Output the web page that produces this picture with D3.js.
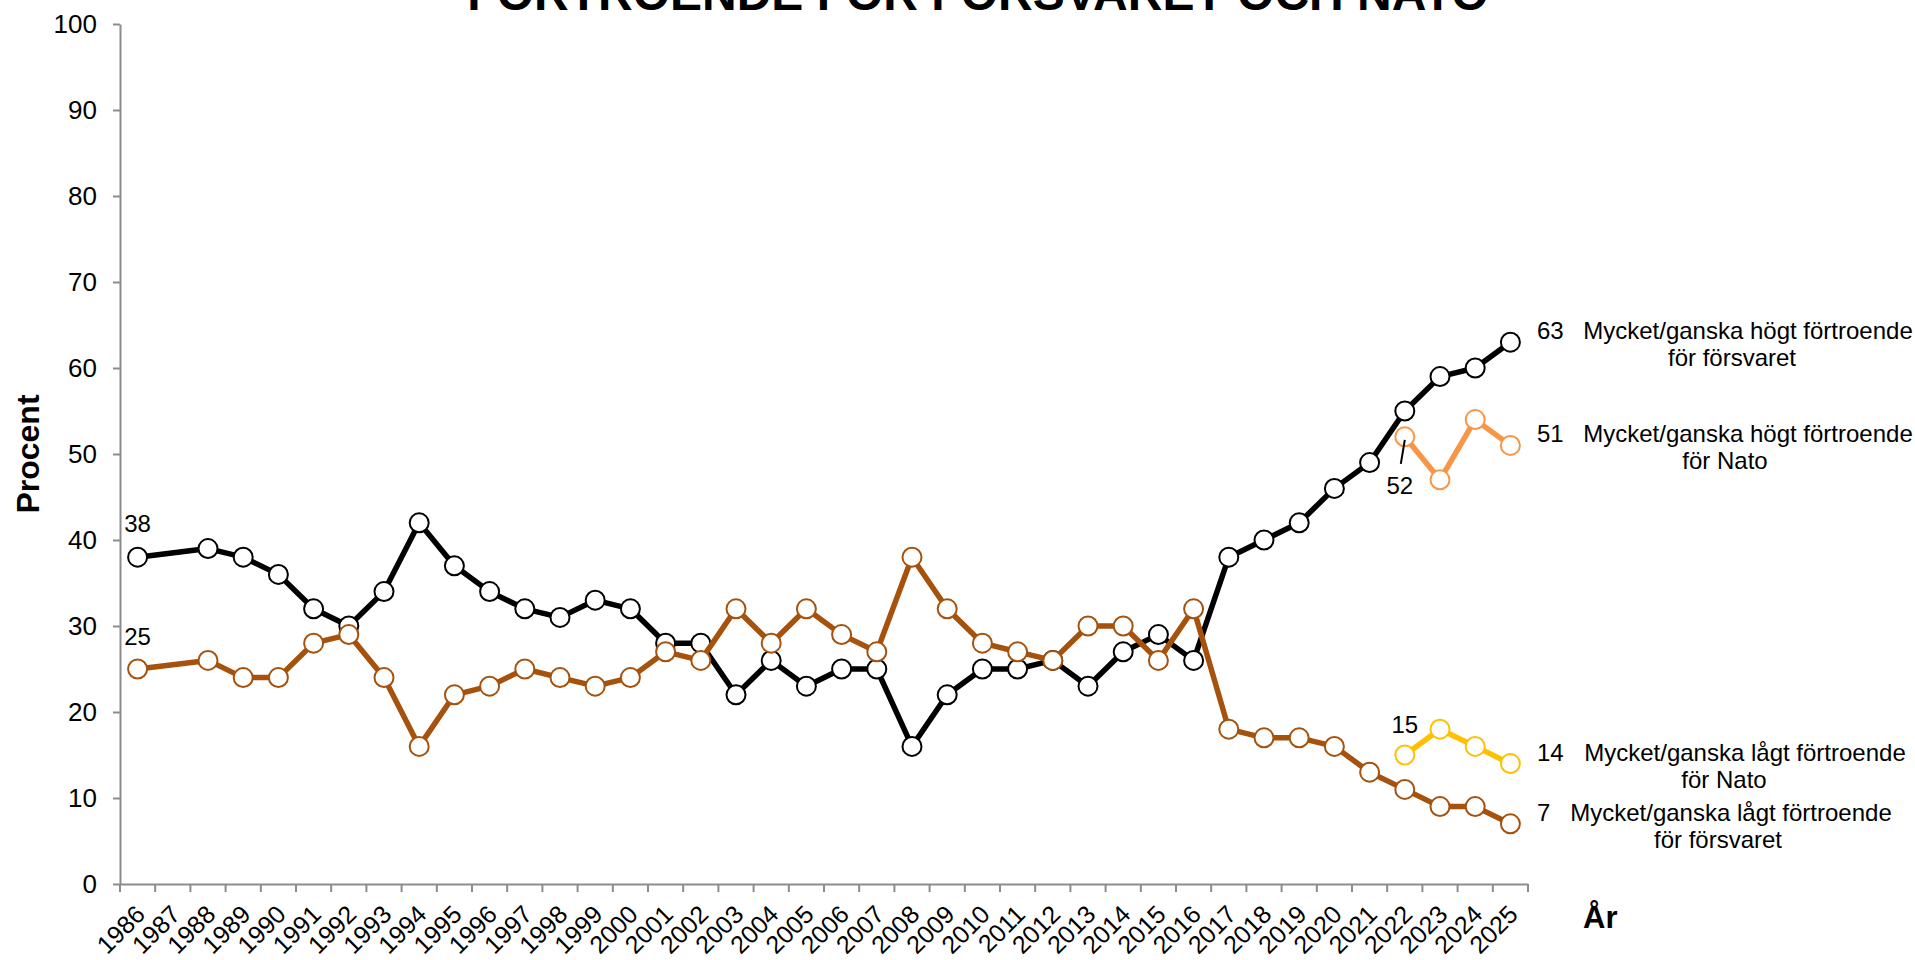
<!DOCTYPE html>
<html>
<head>
<meta charset="utf-8">
<script src="https://cdn.jsdelivr.net/npm/d3@7"></script>
<style>
  html, body { margin: 0; padding: 0; background: #fff; }
  svg { display: block; font-family: "Liberation Sans", Arial, sans-serif; }
</style>
</head>
<body>
<main></main>
<script>
const years = [1986, 1987, 1988, 1989, 1990, 1991, 1992, 1993, 1994, 1995,
    1996, 1997, 1998, 1999, 2000, 2001, 2002, 2003, 2004, 2005,
    2006, 2007, 2008, 2009, 2010, 2011, 2012, 2013, 2014, 2015,
    2016, 2017, 2018, 2019, 2020, 2021, 2022, 2023, 2024, 2025]

// 1987 saknas
const hogtForsvaret = [38, null, 39, 38, 36, 32, 30, 34, 42, 37,
    34, 32, 31, 33, 32, 28, 28, 22, 26, 23,
    25, 25, 16, 22, 25, 25, 26, 23, 27, 29,
    26, 38, 40, 42, 46, 49, 55, 59, 60, 63]
const lagtForsvaret = [25, null, 26, 24, 24, 28, 29, 24, 16, 22,
    23, 25, 24, 23, 24, 27, 26, 32, 28, 32,
    29, 27, 38, 32, 28, 27, 26, 30, 30, 26,
    32, 18, 17, 17, 16, 13, 11, 9, 9, 7]
const natoYears = [2022, 2023, 2024, 2025]
const hogtNato = [52, 47, 54, 51]
const lagtNato = [15, 18, 16, 14]

const yTicks = [0, 10, 20, 30, 40, 50, 60, 70, 80, 90, 100]

const width = 1915, height = 960
const margin = { top: 24, bottom: 76, left: 120, right: 387 }

const svg = d3.select("main")
    .append("svg")
    .attr("width", width)
    .attr("height", height)

const x = d3.scaleBand()
    .domain(years)
    .range([margin.left, width - margin.right])
    .padding(0)
const cx = d => x(d) + x.bandwidth() / 2

const y = d3.scaleLinear()
    .domain([0, 100])
    .range([height - margin.bottom, margin.top])

const axisColor = "#8c8c8c"

// y-axel
const gy = svg.append("g")
    .attr("transform", `translate(${margin.left}, 0)`)
    .call(d3.axisLeft(y).tickValues(yTicks).tickSizeInner(7).tickSizeOuter(0).tickPadding(16))
gy.select(".domain").attr("stroke", axisColor).attr("stroke-width", 2)
gy.selectAll(".tick line").attr("stroke", axisColor).attr("stroke-width", 2)
gy.selectAll(".tick text")
    .attr("font-size", 26)
    .attr("font-family", "Liberation Sans, Arial, sans-serif")
    .attr("fill", "#000")

// x-axel
const gx = svg.append("g")
    .attr("transform", `translate(0, ${y(0)})`)
    .call(d3.axisBottom(x).tickSize(0).tickSizeOuter(0))
gx.select(".domain").attr("stroke", axisColor).attr("stroke-width", 2)
gx.selectAll(".tick text")
    .attr("font-size", 25)
    .attr("font-family", "Liberation Sans, Arial, sans-serif")
    .attr("fill", "#000")
    .attr("text-anchor", "end")
    .attr("x", 0).attr("y", 0).attr("dy", 0)
    .attr("transform", "translate(9, 32) rotate(-45)")

gx.append("g")
    .selectAll("line")
    .data(years.map(d => x(d)).concat([x.range()[1]]))
    .enter()
    .append("line")
    .attr("x1", d => d).attr("x2", d => d)
    .attr("y1", 0).attr("y2", 8)
    .attr("stroke", axisColor)
    .attr("stroke-width", 2)

// serier
const series = [
    { xs: years, values: hogtForsvaret, color: "#000000" },
    { xs: years, values: lagtForsvaret, color: "#a6520c" },
    { xs: natoYears, values: hogtNato, color: "#f79646" },
    { xs: natoYears, values: lagtNato, color: "#ffc000" }
]

let line = d3.line()
    .x(d => cx(d.year))
    .y(d => y(d.value))

series.forEach(s => {
    let pts = s.xs.map((yr, i) => ({ year: yr, value: s.values[i] }))
        .filter(d => d.value !== null)
    let g = svg.append("g")
    g.append("path")
        .datum(pts)
        .attr("d", line)
        .attr("fill", "none")
        .attr("stroke", s.color)
        .attr("stroke-width", 5.5)
        .attr("stroke-linejoin", "round")
    g.selectAll("circle")
        .data(pts)
        .enter()
        .append("circle")
        .attr("cx", d => cx(d.year))
        .attr("cy", d => y(d.value))
        .attr("r", 9.5)
        .attr("fill", "#fff")
        .attr("stroke", s.color)
        .attr("stroke-width", 2)
})

// datatexter i diagrammet
const labels = svg.append("g")
    .attr("font-size", 24)
    .attr("fill", "#000")
    .attr("text-anchor", "middle")

labels.append("text").attr("x", cx(1986)).attr("y", y(hogtForsvaret[0]) - 25).text(hogtForsvaret[0])
labels.append("text").attr("x", cx(1986)).attr("y", y(lagtForsvaret[0]) - 24).text(lagtForsvaret[0])
labels.append("text").attr("x", cx(2022)).attr("y", y(lagtNato[0]) - 22).text(lagtNato[0])
labels.append("text").attr("x", cx(2022) - 5).attr("y", y(hogtNato[0]) + 57).text(hogtNato[0])
svg.append("line")
    .attr("x1", cx(2022)).attr("y1", y(hogtNato[0]) + 3)
    .attr("x2", cx(2022) - 4).attr("y2", y(hogtNato[0]) + 27)
    .attr("stroke", "#000").attr("stroke-width", 2)

// etiketter till höger
const rightLabels = [
    { value: hogtForsvaret[39], line1: "Mycket/ganska högt förtroende", line2: "för försvaret", c1: 1748, c2: 1732 },
    { value: hogtNato[3], line1: "Mycket/ganska högt förtroende", line2: "för Nato", c1: 1748, c2: 1725 },
    { value: lagtNato[3], line1: "Mycket/ganska lågt förtroende", line2: "för Nato", c1: 1745, c2: 1724 },
    { value: lagtForsvaret[39], line1: "Mycket/ganska lågt förtroende", line2: "för försvaret", c1: 1731, c2: 1718 }
]

const rl = svg.append("g").attr("font-size", 24).attr("fill", "#000")
rightLabels.forEach(d => {
    let base = y(d.value) - 3
    rl.append("text").attr("x", 1537).attr("y", base).text(d.value)
    rl.append("text").attr("x", d.c1).attr("y", base).attr("text-anchor", "middle").text(d.line1)
    rl.append("text").attr("x", d.c2).attr("y", base + 27).attr("text-anchor", "middle").text(d.line2)
})

// titlar
svg.append("text")
    .attr("x", 978).attr("y", 10)
    .attr("text-anchor", "middle")
    .attr("font-size", 48)
    .attr("font-weight", "bold")
    .text("FÖRTROENDE FÖR FÖRSVARET OCH NATO")

svg.append("text")
    .attr("transform", `translate(39, ${(y(0) + y(100)) / 2}) rotate(-90)`)
    .attr("text-anchor", "middle")
    .attr("font-size", 32)
    .attr("font-weight", "bold")
    .text("Procent")

svg.append("text")
    .attr("x", 1583).attr("y", 928)
    .attr("font-size", 31)
    .attr("font-weight", "bold")
    .text("År")
</script>
</body>
</html>
